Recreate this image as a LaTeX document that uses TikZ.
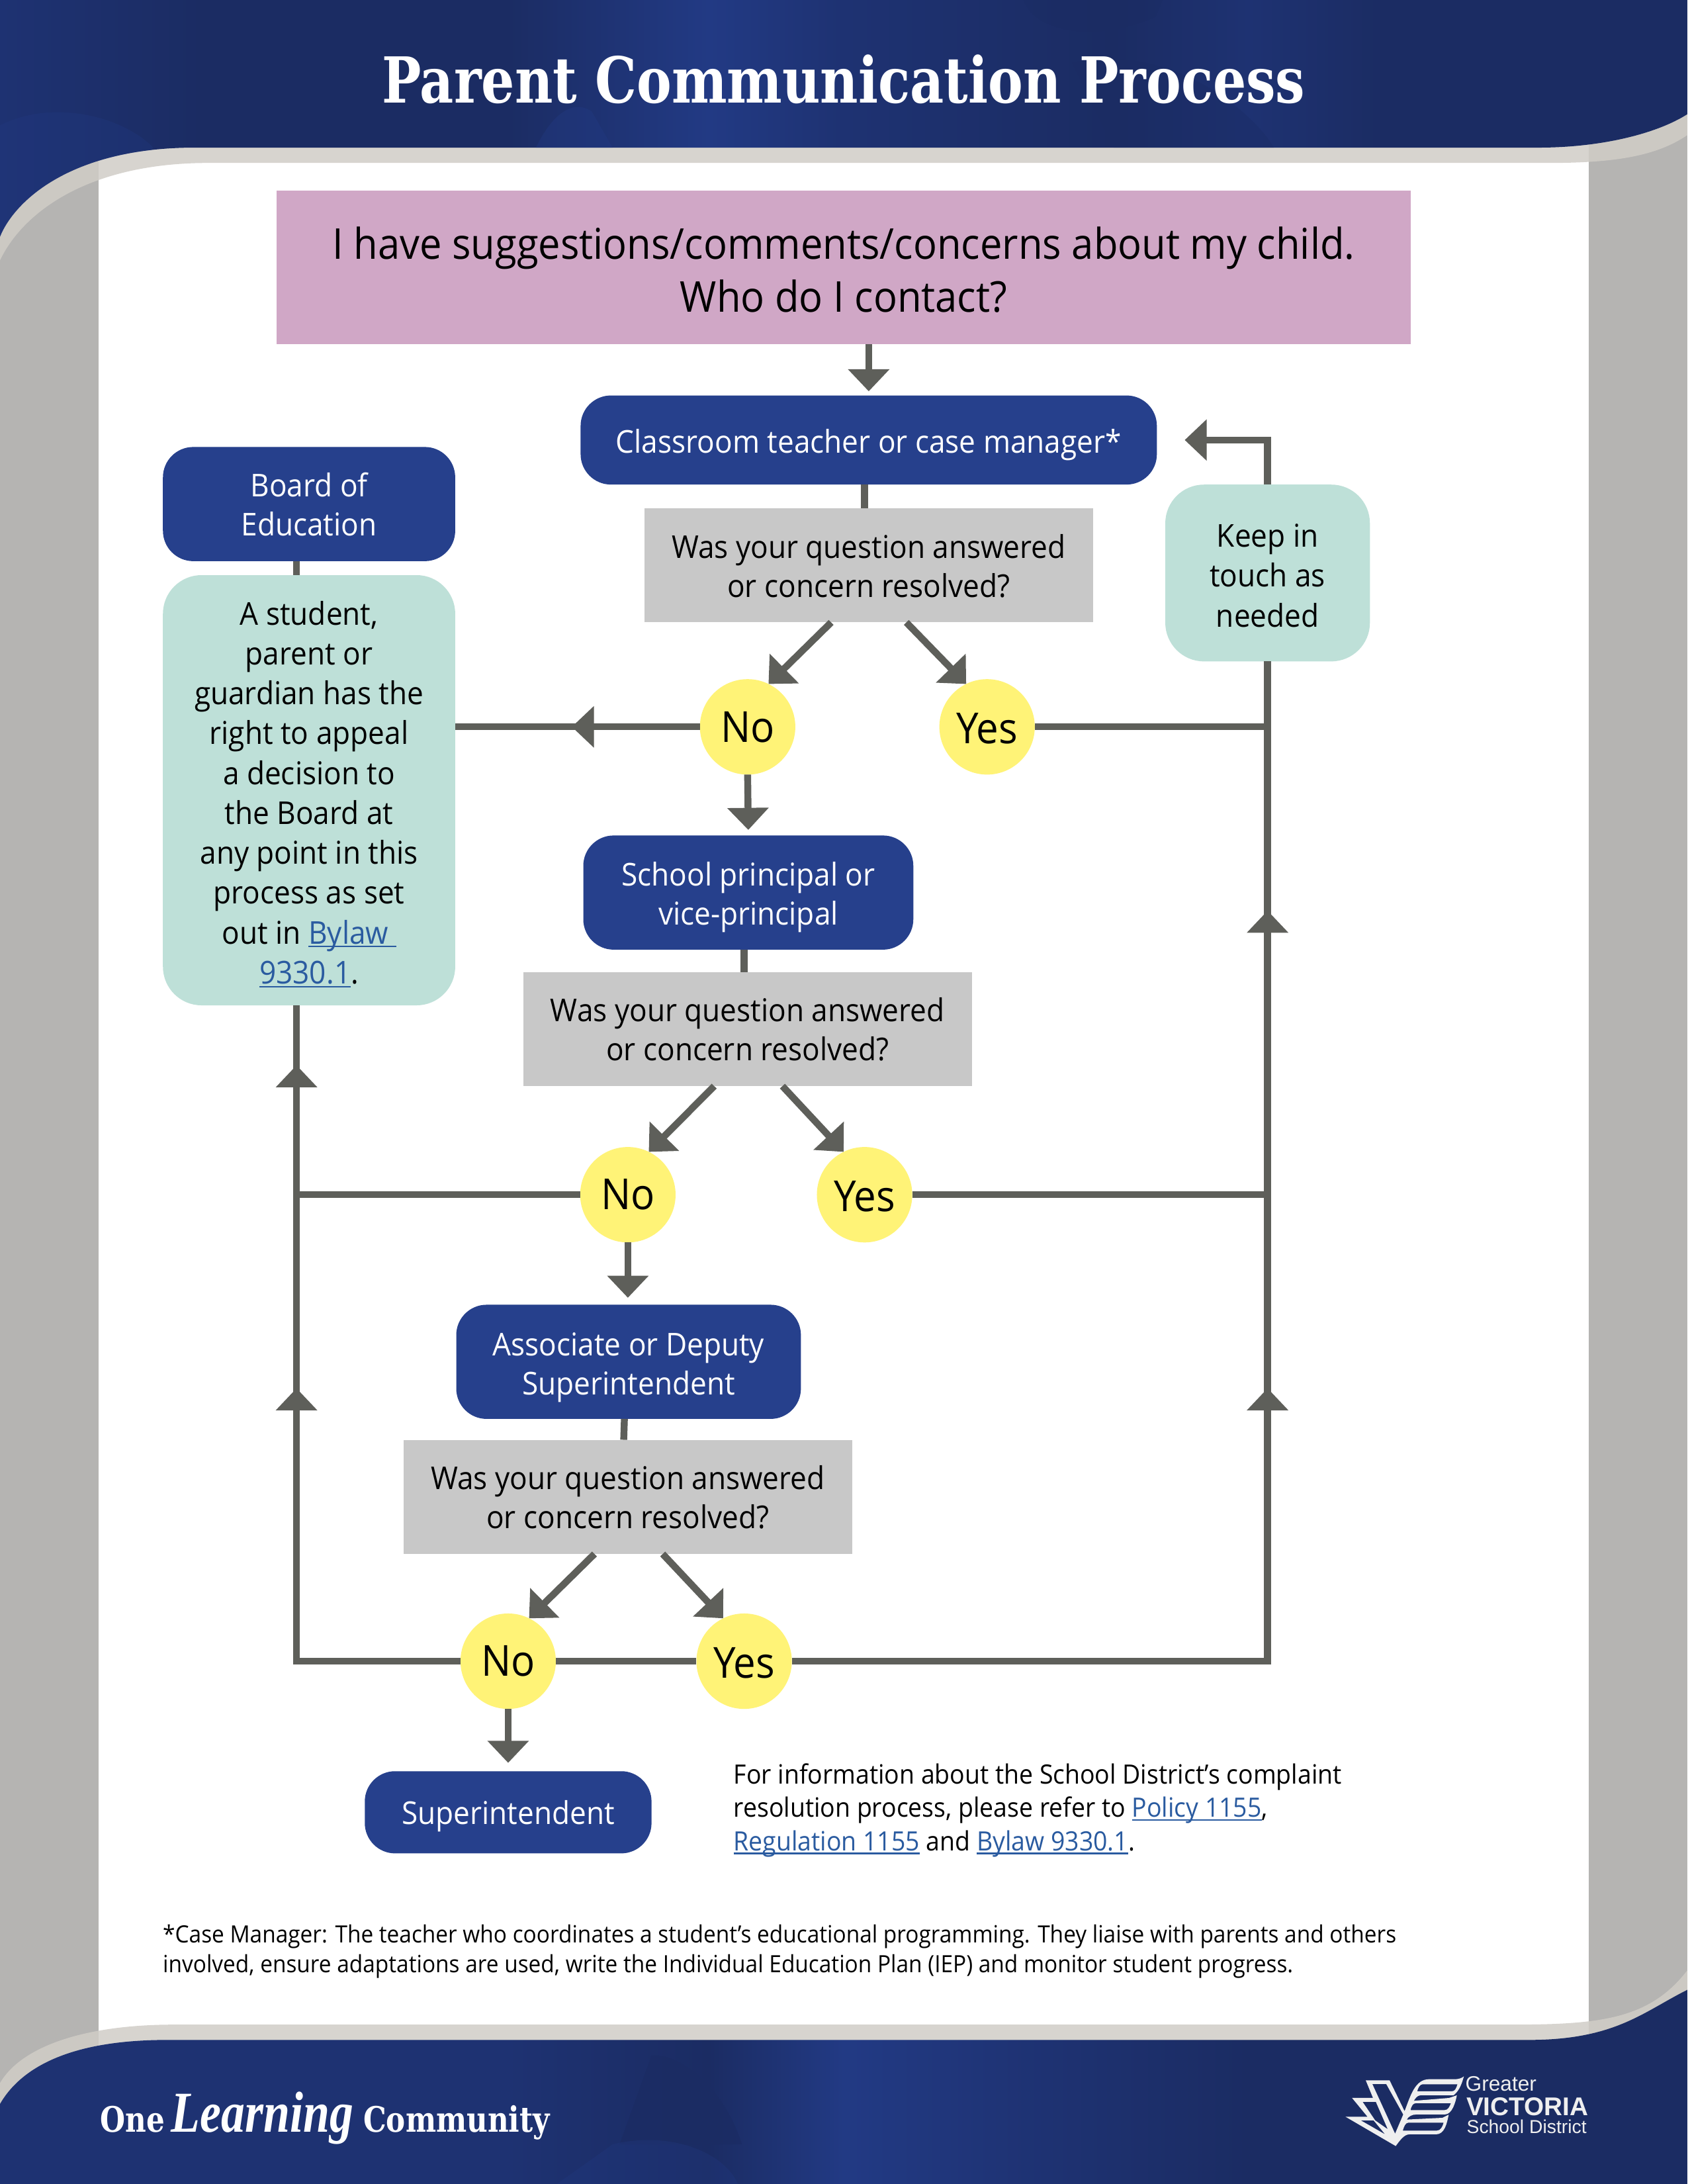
\documentclass[tikz,border=0pt]{standalone}
\usepackage{fontspec}
\usetikzlibrary{arrows.meta,calc}
\setmainfont[FakeStretch=0.93]{Open Sans}
\newfontfamily\titlefont[FakeStretch=0.825]{DejaVu Serif}
\newfontfamily\learnfont[FakeStretch=0.82]{Liberation Serif}
\newfontfamily\logofont{Liberation Sans}
\definecolor{bluenode}{HTML}{26408C}
\definecolor{greybox}{HTML}{C8C8C8}
\definecolor{teal}{HTML}{BEE0D8}
\definecolor{yellowc}{HTML}{FFF377}
\definecolor{pinkbox}{HTML}{D0A7C6}
\definecolor{connc}{HTML}{5E5F5A}
\definecolor{sidegrey}{HTML}{B5B4B2}
\definecolor{bandc}{RGB}{209,205,199}
\definecolor{linkc}{HTML}{2A5BA0}
\definecolor{bdark}{HTML}{1B2C63}
\definecolor{blight}{HTML}{223A84}
\definecolor{bmid}{HTML}{1E3272}
\definecolor{logow}{HTML}{EFEFEF}
\pgfdeclarehorizontalshading{topbands}{100bp}{color(0bp)=(blight); color(25bp)=(bmid); color(31bp)=(bdark); color(40bp)=(bdark); color(46bp)=(blight); color(50bp)=(bmid); color(58bp)=(bdark); color(62bp)=(bmid); color(66bp)=(bdark); color(75bp)=(bdark); color(100bp)=(bdark)}
\pgfdeclarehorizontalshading{botbands}{100bp}{color(0bp)=(blight); color(25bp)=(bmid); color(40bp)=(bmid); color(46bp)=(bdark); color(50bp)=(blight); color(56bp)=(bmid); color(62bp)=(bdark); color(75bp)=(bdark); color(100bp)=(bdark)}
\newcommand{\lnk}[1]{\textcolor{linkc}{\setbox0\hbox{#1}\rlap{\rule[-1.3pt]{\wd0}{0.5pt}}\box0}}
\newcommand{\tup}[1]{\rule{0pt}{#1pt}}
\tikzset{
  x=0.50495pt,y=-0.50495pt,
  base/.style={inner sep=0pt,outer sep=0pt,align=center},
  bluebox/.style={base,fill=bluenode,text=white,rounded corners=11pt,font=\fontsize{11.4}{14.2}\selectfont},
  greyq/.style={base,fill=greybox,text=black,minimum width=162.6pt,minimum height=41.4pt,font=\fontsize{11.4}{14.2}\selectfont},
  tealbox/.style={base,fill=teal,text=black,rounded corners=14pt,font=\fontsize{11.4}{14.45}\selectfont},
  answer/.style={base,circle,fill=yellowc,text=black,minimum size=34.6pt,font=\fontsize{15.5}{17}\selectfont},
  conn/.style={draw=connc,line width=2.5pt},
  arr/.style={conn,-{Triangle[length=8pt,width=14.6pt]}},
  logofill/.style={fill=logow,draw=none}
}
\begin{document}
\begin{tikzpicture}
\useasboundingbox (0,0) rectangle (1212,1568.47);
% page layers
\fill[sidegrey] (0,0) rectangle (1212,1568.47);
\fill[white] (71,90) rectangle (1141,1480);
\fill[bandc,fill opacity=.85] (0,0) -- (1212,0) -- (1212,97) .. controls (1190,112) and (1160,117) .. (1113,117) -- (150,117) .. controls (60,117) and (15,155) .. (0,187) -- cycle;
\fill[bandc,fill opacity=.85] (0,1496) .. controls (15,1470) and (60,1454) .. (125,1454) -- (1085,1454) .. controls (1150,1454) and (1185,1450) .. (1212,1415) -- (1212,1568.47) -- (0,1568.47) -- cycle;
% top blue
\begin{scope}
\clip (0,0) -- (1212,0) -- (1212,82) .. controls (1190,96) and (1150,106) .. (1105,106) -- (140,106) .. controls (50,106) and (10,145) .. (0,170) -- cycle;
\shade[shading=topbands] (0,0) rectangle (1212,175);
\fill[blight,fill opacity=.3] (0,90) .. controls (40,70) and (90,85) .. (110,106) -- (60,175) -- (0,175) -- cycle;
\fill[bdark,fill opacity=.4] (735,0) .. controls (745,25) and (790,30) .. (830,12) -- (835,0) -- cycle;
\fill[bdark,fill opacity=.35] (770,45) .. controls (840,30) and (900,80) .. (915,106) -- (800,106) -- cycle;
\fill[blight,fill opacity=.4] (385,106) .. controls (395,85) and (410,70) .. (425,80) -- (440,106) -- cycle;
\end{scope}
% bottom blue
\begin{scope}
\clip (0,1511) .. controls (15,1485) and (50,1465) .. (120,1465) -- (1098,1465) .. controls (1160,1465) and (1180,1445) .. (1212,1429) -- (1212,1568.47) -- (0,1568.47) -- cycle;
\shade[shading=botbands] (0,1420) rectangle (1212,1568.47);
\fill[bdark,fill opacity=.7] (468,1476) .. controls (490,1475) and (520,1500) .. (533,1540) -- (445,1540) -- cycle;
\fill[blight,fill opacity=.3] (440,1540) .. controls (480,1530) and (520,1545) .. (530,1568.47) -- (400,1568.47) -- cycle;
\end{scope}
% titles
\node[base,text=white,font=\titlefont\bfseries\fontsize{23}{26}\selectfont] (title) at (606,57) {Parent Communication Process};
% flow nodes
\node[base,fill=pinkbox,minimum width=411.5pt,minimum height=55.5pt,font=\fontsize{15.4}{19.2}\selectfont] (ask) at (606,192) {\tup{13.6}I have suggestions/comments/concerns about my child.\\Who do I contact?};
\node[bluebox,minimum width=209pt,minimum height=32.3pt] (teacher) at (624,316) {\tup{12.2}Classroom teacher or case manager*};
\node[greyq] (q1) at (624,406) {\tup{9}Was your question answered\\or concern resolved?};
\node[answer] (no1) at (537,522) {No};
\node[answer] (yes1) at (709,522) {\tup{12.2}Yes};
\node[bluebox,minimum width=119.7pt,minimum height=41.4pt] (principal) at (537.5,641) {\tup{11.9}School principal or\\vice-principal};
\node[greyq] (q2) at (537,739) {\tup{9}Was your question answered\\or concern resolved?};
\node[answer] (no2) at (451,858) {No};
\node[answer] (yes2) at (621,858) {\tup{12.2}Yes};
\node[bluebox,minimum width=125pt,minimum height=41.4pt] (assoc) at (451.5,978) {\tup{12.3}Associate or Deputy\\Superintendent};
\node[greyq] (q3) at (451,1075) {\tup{9}Was your question answered\\or concern resolved?};
\node[answer] (no3) at (365,1193) {No};
\node[answer] (yes3) at (534.5,1193) {\tup{12.2}Yes};
\node[bluebox,minimum width=104pt,minimum height=29.8pt] (super) at (365,1301.5) {\tup{11.5}Superintendent};
\node[bluebox,minimum width=106pt,minimum height=41.4pt] (board) at (222,362) {Board of\\Education};
\node[tealbox,minimum width=106pt,minimum height=156pt] (appeal) at (222,567.5) {\tup{11.5}A student,\\parent or\\guardian has the\\right to appeal\\a decision to\\the Board at\\any point in this\\process as set\\out in \lnk{Bylaw\ }\\\lnk{9330.1}.};
\node[tealbox,minimum width=74.2pt,minimum height=64.1pt] (keep) at (910.5,411.5) {\tup{10.2}Keep in\\touch as\\needed};
% connectors
\coordinate (railL) at ($(appeal.south)+(-9,0)$);
\coordinate (railR) at (keep.south |- yes3.east);
\draw[arr] ($(ask.south)+(18,0)$) -- ($(teacher.north)+(0,-3)$);
\draw[conn] ($(teacher.south)+(-3,0)$) -- ($(q1.north)+(-3,0)$);
\draw[arr] ($(q1.south)+(-27,0)$) -- (no1.64);
\draw[arr] ($(q1.south)+(27,0)$) -- (yes1.116);
\draw[conn] (no1.west) -- (appeal.east |- no1.west);
\coordinate (tipA) at ($(no1.west)+(-92,0)$);
\draw[arr] ($(tipA)+(20,0)$) -- (tipA);
\draw[arr] (no1.south) -- ($(principal.north)+(0,-4)$);
\draw[conn] (yes1.east) -- (keep.south |- yes1.east);
\draw[conn] ($(principal.south)+(-3,0)$) -- ($(q2.north)+(-2.5,0)$);
\draw[arr] ($(q2.south)+(-24,0)$) -- (no2.64);
\draw[arr] ($(q2.south)+(25,0)$) -- (yes2.116);
\draw[conn] (no2.west) -- (no2.west -| railL);
\draw[arr] (no2.south) -- ($(assoc.north)+(-0.5,-5)$);
\draw[conn] (yes2.east) -- (keep.south |- yes2.east);
\draw[conn] ($(assoc.south)+(-3,0)$) -- ($(q3.north)+(-3,0)$);
\draw[arr] ($(q3.south)+(-24,0)$) -- (no3.64);
\draw[arr] ($(q3.south)+(25,0)$) -- (yes3.116);
\draw[conn] (no3.east) -- (yes3.west);
\draw[arr] (no3.south) -- ($(super.north)+(0,-6)$);
\draw[conn] (no3.west) -| (railL);
\coordinate (tipL1) at (railL |- 0,997);
\coordinate (tipL2) at (railL |- 0,765);
\draw[arr] ($(tipL1)+(0,20)$) -- (tipL1);
\draw[arr] ($(tipL2)+(0,20)$) -- (tipL2);
\draw[conn] (yes3.east) -- (railR) -- (keep.south);
\coordinate (tipR1) at (keep.south |- 0,997);
\coordinate (tipR2) at (keep.south |- 0,654);
\draw[arr] ($(tipR1)+(0,20)$) -- (tipR1);
\draw[arr] ($(tipR2)+(0,20)$) -- (tipR2);
\draw[arr] (keep.north) |- ($(teacher.east)+(20,0)$);
\draw[conn] ($(board.south)+(-9,0)$) -- ($(appeal.north)+(-9,0)$);
% notes
\node[base,align=left,anchor=west,font=\fontsize{9.65}{12.1}\selectfont] (info) at (527,1300) {For information about the School District’s complaint\\resolution process, please refer to \lnk{Policy 1155},\\\lnk{Regulation 1155} and \lnk{Bylaw 9330.1}.};
\node[base,align=left,anchor=west,font=\fontsize{8.62}{10.6}\selectfont] (note) at (117,1401.5) {*Case Manager: The teacher who coordinates a student’s educational programming. They liaise with parents and others\\involved, ensure adaptations are used, write the Individual Education Plan (IEP) and monitor student progress.};
% footer
\node[base,anchor=base west,text=white,font=\titlefont\bfseries\fontsize{12.7}{14}\selectfont] (one) at (72,1531) {One};
\node[base,anchor=base west,text=white,font=\learnfont\bfseries\itshape\fontsize{21}{23}\selectfont] (learn) at (123,1531) {Learning};
\node[base,anchor=base west,text=white,font=\titlefont\bfseries\fontsize{12.7}{14}\selectfont] (comm) at (261,1531) {Community};
% logo
\begin{scope}[shift={(950.57,1463.88)},x=0.08pt,y=-0.08pt]
\fill[logofill,even odd rule]
  (328,488) -- (100,355) -- (200,355) -- (130,270) -- (225,270) -- (192,190) -- (300,190) -- (368,330) .. controls (395,260) and (415,185) .. (480,185) -- (600,185) .. controls (615,184) and (628,180) .. (637,172) .. controls (630,195) and (620,235) .. (590,258) -- (440,258) .. controls (425,258) and (415,275) .. (410,283) -- (570,270) -- (605,258) .. controls (600,285) and (585,345) .. (550,345) -- (420,345) .. controls (400,345) and (385,355) .. (378,368) -- (540,360) -- (568,346) .. controls (560,385) and (550,435) .. (510,435) -- (390,435) .. controls (365,435) and (345,465) .. (328,488) -- cycle
  (222,207) -- (285,207) -- (362,345) -- (325,432) -- cycle
  (178,288) -- (238,288) -- (292,412) -- (235,372) -- cycle
  (170,372) -- (228,372) -- (280,435) -- cycle
  (450,208) -- (608,208) .. controls (602,225) and (598,240) .. (582,240) -- (425,240) .. controls (430,222) and (438,208) .. (450,208) -- cycle
  (418,294) -- (578,294) .. controls (572,310) and (565,325) .. (550,325) -- (395,325) .. controls (398,310) and (405,294) .. (418,294) -- cycle
  (385,382) -- (545,382) .. controls (540,400) and (532,418) .. (515,418) -- (360,418) .. controls (365,400) and (372,382) .. (385,382) -- cycle;
\node[base,anchor=base west,text=logow,font=\logofont\fontsize{7.6}{8}\selectfont] (lg1) at (644,240) {Greater};
\node[base,anchor=base west,text=logow,font=\logofont\bfseries\fontsize{9.3}{10}\selectfont] (lg2) at (648,350) {VICTORIA};
\node[base,anchor=base west,text=logow,font=\logofont\fontsize{6.8}{8}\selectfont] (lg3) at (650,430) {School District};
\end{scope}
\end{tikzpicture}
\end{document}
